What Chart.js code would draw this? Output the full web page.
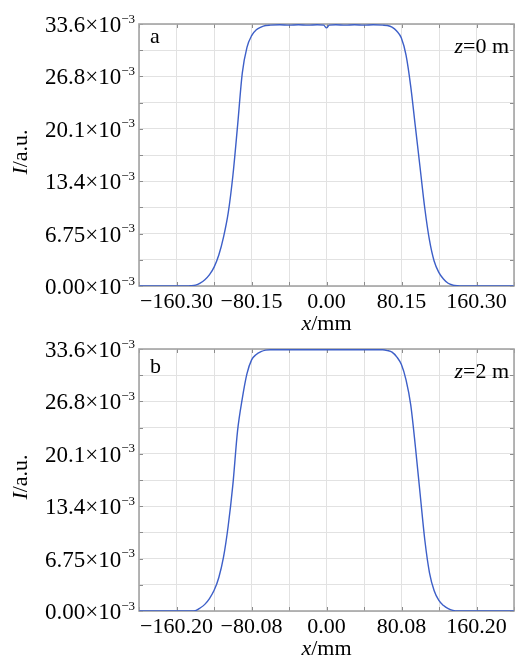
<!DOCTYPE html>
<html><head><meta charset="utf-8">
<script src="https://cdn.jsdelivr.net/npm/chart.js@4/dist/chart.umd.min.js"></script>
<style>
html,body{margin:0;padding:0;background:#fff;width:517px;height:660px;overflow:hidden}
.w{position:absolute;left:0;width:517px;height:335px}
canvas{display:block}
</style></head><body>
<div class="w" style="top:0"><canvas id="c1" width="517" height="335"></canvas></div>
<div class="w" style="top:325px"><canvas id="c2" width="517" height="335"></canvas></div>
<script>
// ---- data (intensity in units of 10^-3 a.u.) ----
const xTop = [-200,-150,-145,-140,-135,-130,-125,-120,-115,-110,-105,-100,-95,-90,-85,-80,-75,-70,-65,-60,-50,-40,-30,-20,-10,-3,0,3,10,20,30,40,50,60,65,70,75,80,85,90,95,100,105,110,115,120,125,130,135,140,145,150,200];
const yTop = [0,0,0.03,0.12,0.38,0.8,1.45,2.45,4.0,6.3,9.4,14.2,20.6,27.3,30.6,32.1,32.85,33.2,33.4,33.45,33.5,33.45,33.5,33.45,33.5,33.45,33.1,33.45,33.5,33.45,33.5,33.45,33.5,33.45,33.4,33.2,32.7,31.8,29.6,25.6,20.4,15.2,10.0,5.9,3.2,1.75,0.9,0.35,0.12,0.03,0,0,0];
const xBot = [-200,-145,-140,-135,-130,-125,-120,-115,-110,-105,-100,-95,-90,-85,-80,-75,-70,-65,-60,-40,-20,0,20,40,60,65,70,75,80,85,90,95,100,105,110,115,120,125,130,135,140,200];
const yBot = [0,0,0.05,0.38,0.85,1.6,2.65,4.3,6.9,10.9,16.2,23.1,27.2,30.4,32.2,32.9,33.25,33.45,33.5,33.5,33.5,33.5,33.5,33.5,33.5,33.4,33.2,32.6,31.6,29.6,26.4,21.0,15.0,9.1,4.9,2.6,1.35,0.7,0.3,0.08,0,0];

const xLimTop = 200.375;   // axis half-range, top panel (mm)
const xLimBot = 200.25;    // axis half-range, bottom panel (mm)
const xTickLabelsTop = ['\u2212160.30','\u221280.15','0.00','80.15','160.30'];
const xTickLabelsBot = ['\u2212160.20','\u221280.08','0.00','80.08','160.20'];

const yTickVals = [0,3.36,6.72,10.08,13.44,16.8,20.16,23.52,26.88,30.24,33.6];
const yTickLabels = ['0.00','','6.75','','13.4','','20.1','','26.8','','33.6'];
const yExpText = '\u00d710';
const yExpSup = '\u22123';

const SERIF = "'Liberation Serif','Times New Roman',serif";

function drawRich(ctx, parts, x, y, align) {
  let w = 0;
  parts.forEach(p => { ctx.font = (p.italic ? 'italic ' : '') + p.size + 'px ' + SERIF; p.w = ctx.measureText(p.t).width; w += p.w; });
  let cx = align === 'center' ? x - w / 2 : (align === 'right' ? x - w : x);
  ctx.textAlign = 'left'; ctx.textBaseline = 'alphabetic';
  parts.forEach(p => { ctx.font = (p.italic ? 'italic ' : '') + p.size + 'px ' + SERIF; ctx.fillText(p.t, cx, y + (p.dy || 0)); cx += p.w; });
}

function makeChart(id, xs, ys, lim, tLabels, letter, letterDy, zText) {
  const xmin = -lim, xmax = lim;
  const grid = [];
  for (let i = 0; i <= 10; i++) grid.push(xmin + i * (2 * lim / 10));
  const deco = {
    id: 'deco',
    beforeDatasetsDraw(chart) {
      const ctx = chart.ctx, a = chart.chartArea, xs_ = chart.scales.x, ys_ = chart.scales.y;
      ctx.save();
      ctx.strokeStyle = '#8c8c8c'; ctx.lineWidth = 1;
      grid.forEach(v => {
        const px = Math.round(xs_.getPixelForValue(v)) + 0.5;
        ctx.beginPath(); ctx.moveTo(px, a.bottom); ctx.lineTo(px, a.bottom - 4); ctx.moveTo(px, a.top); ctx.lineTo(px, a.top + 4); ctx.stroke();
      });
      yTickVals.forEach(v => {
        const py = Math.round(ys_.getPixelForValue(v)) + 0.5;
        ctx.beginPath(); ctx.moveTo(a.left, py); ctx.lineTo(a.left + 4, py); ctx.moveTo(a.right, py); ctx.lineTo(a.right - 4, py); ctx.stroke();
      });
      ctx.strokeStyle = '#a4a4a4'; ctx.lineWidth = 1.6;
      ctx.strokeRect(a.left, a.top, a.right - a.left, a.bottom - a.top);
      ctx.restore();
    },
    afterDraw(chart) {
      const ctx = chart.ctx, a = chart.chartArea, ys_ = chart.scales.y;
      ctx.save();
      ctx.fillStyle = '#000';
      yTickVals.forEach((v, i) => {
        if (!yTickLabels[i]) return;
        const py = ys_.getPixelForValue(v);
        drawRich(ctx, [{t: yTickLabels[i] + yExpText, size: 23}, {t: yExpSup, size: 13, dy: -9.5}], a.left - 4, py + 8, 'right');
      });
      drawRich(ctx, [{t: 'x', italic: true, size: 22}, {t: '/mm', size: 22}], (a.left + a.right) / 2, a.bottom + 44, 'center');
      ctx.save();
      ctx.translate(27, (a.top + a.bottom) / 2 - 3);
      ctx.rotate(-Math.PI / 2);
      drawRich(ctx, [{t: 'I', italic: true, size: 22}, {t: '/a.u.', size: 22}], 0, 0, 'center');
      ctx.restore();
      drawRich(ctx, [{t: letter, size: 22}], a.left + 11, a.top + letterDy, 'left');
      drawRich(ctx, [{t: 'z', italic: true, size: 22}, {t: '=' + zText + ' m', size: 22}], 509, a.top + 29, 'right');
      ctx.restore();
    }
  };
  return new Chart(document.getElementById(id), {
    type: 'line',
    data: { datasets: [{
      data: xs.map((x, i) => ({x: x, y: ys[i]})),
      borderColor: '#3d5fc8', borderWidth: 1.4, pointRadius: 0, fill: false,
      cubicInterpolationMode: 'monotone'
    }]},
    options: {
      responsive: false, animation: false, devicePixelRatio: 1,
      layout: { padding: { top: 24, right: 1, left: 0, bottom: 0 } },
      plugins: { legend: { display: false }, tooltip: { enabled: false } },
      scales: {
        x: {
          type: 'linear', min: xmin, max: xmax,
          afterBuildTicks: s => { s.ticks = grid.map(v => ({value: v})); },
          afterFit: s => { s.height = 49; },
          grid: { color: '#e2e2e2', lineWidth: 1, drawTicks: false },
          border: { display: false },
          ticks: {
            padding: 3, maxRotation: 0, autoSkip: false, color: '#000',
            font: { family: SERIF, size: 22 },
            callback: (v, i) => (i % 2 === 1 ? tLabels[(i - 1) / 2] : '')
          }
        },
        y: {
          type: 'linear', min: 0, max: 33.6,
          afterBuildTicks: s => { s.ticks = yTickVals.map(v => ({value: v})); },
          afterFit: s => { s.width = 139; },
          grid: { color: '#e2e2e2', lineWidth: 1, drawTicks: false },
          border: { display: false },
          ticks: { display: false }
        }
      }
    },
    plugins: [deco]
  });
}

makeChart('c1', xTop, yTop, xLimTop, xTickLabelsTop, 'a', 19, '0');
makeChart('c2', xBot, yBot, xLimBot, xTickLabelsBot, 'b', 24, '2');
</script>
</body></html>
